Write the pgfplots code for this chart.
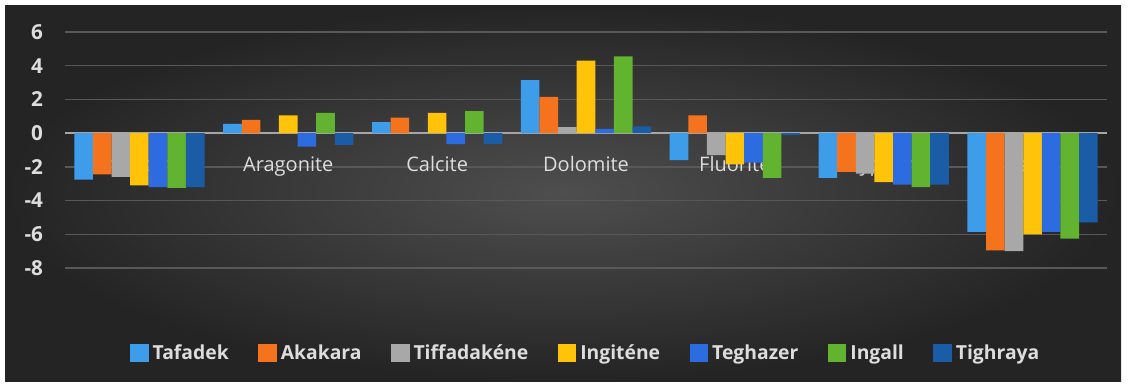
\documentclass[border=0pt]{standalone}
\usepackage{pgfplots}
\pgfplotsset{compat=1.18}
\usepackage{pgfplotstable}
\usepackage{fontspec}
\setmainfont{Open Sans}
\definecolor{cA}{HTML}{3D9DEB}
\definecolor{cB}{HTML}{F4731C}
\definecolor{cC}{HTML}{A8A8A8}
\definecolor{cD}{HTML}{FFC30A}
\definecolor{cE}{HTML}{2D6BE0}
\definecolor{cF}{HTML}{62B32F}
\definecolor{cG}{HTML}{1A5DA6}
\definecolor{bgin}{HTML}{4E4E4E}
\definecolor{bgout}{HTML}{242424}
\definecolor{lbl}{HTML}{DDDDDD}
\definecolor{gridc}{HTML}{585858}
\definecolor{zeroc}{HTML}{A6A6A6}

\pgfdeclarelayer{picbg}
\pgfplotsset{
  layers/mylayers/.define layer set={picbg,axis background,axis grid,axis ticks,axis lines,axis tick labels,pre main,main,axis descriptions,axis foreground}{/pgfplots/layers/standard},
}

\pgfplotstableread{
x T A Ti I Te In Tg
0 -2.75 -2.45 -2.6 -3.1 -3.2 -3.25 -3.2
1 0.55 0.78 0.05 1.05 -0.8 1.2 -0.7
2 0.65 0.92 0.05 1.2 -0.65 1.3 -0.65
3 3.15 2.15 0.35 4.3 0.25 4.55 0.4
4 -1.6 1.05 -1.3 -1.85 -1.75 -2.65 -0.1
5 -2.65 -2.3 -2.4 -2.9 -3.05 -3.2 -3.05
6 -5.85 -6.95 -7.0 -6.0 -5.85 -6.25 -5.3
}\datatable

\begin{document}
\begin{tikzpicture}
\begin{axis}[
  set layers=mylayers,
  at={(48.75pt,-201pt)}, anchor=south west,
  scale only axis, width=781.5pt, height=177pt,
  xmin=-0.5, xmax=6.5, ymin=-8, ymax=6,
  ybar=0pt, bar width=0.125,
  axis x line*=middle,
  axis y line*=left,
  y axis line style={draw=none},
  x axis line style={draw=zeroc, line width=1.6pt, -},
  major tick length=0pt,
  xtick={0,...,6},
  xticklabels={Anhydrite,Aragonite,Calcite,Dolomite,Fluorite,Gypsum,Halite},
  xticklabel style={text=lbl, font=\fontsize{15}{17}\selectfont, yshift=-14pt},
  ytick={-8,-6,...,6},
  yticklabel style={text=lbl, font=\bfseries\fontsize{15.5}{17}\selectfont, anchor=east, xshift=-13pt},
  /pgf/number format/assume math mode=true,
  ymajorgrids,
  grid style={draw=gridc, line width=1.1pt},
  legend columns=-1,
  legend style={at={(0.5,0)}, anchor=center, yshift=-63.75pt, draw=none, fill=none,
    text=lbl, font=\bfseries\fontsize{14.5}{17}\selectfont,
    /tikz/every even column/.append style={column sep=20pt},
    /tikz/every odd column/.append style={column sep=1pt}},
  legend image code/.code={\fill[#1,draw=none] (0pt,-7pt) rectangle (14pt,7pt);},
]
\addplot[fill=cA, draw=none] table[x=x,y=T]{\datatable};
\addplot[fill=cB, draw=none] table[x=x,y=A]{\datatable};
\addplot[fill=cC, draw=none] table[x=x,y=Ti]{\datatable};
\addplot[fill=cD, draw=none] table[x=x,y=I]{\datatable};
\addplot[fill=cE, draw=none] table[x=x,y=Te]{\datatable};
\addplot[fill=cF, draw=none] table[x=x,y=In]{\datatable};
\addplot[fill=cG, draw=none] table[x=x,y=Tg]{\datatable};
\legend{Tafadek,Akakara,Tiffadakéne,Ingiténe,Teghazer,Ingall,Tighraya}
\end{axis}
\begin{pgfonlayer}{picbg}
\begin{scope}[x=0.75pt,y=-0.75pt]
\fill[white] (0,0) rectangle (1128,390);
\shade[inner color=bgin, outer color=bgout] (5,5) rectangle (1121,381);
\end{scope}
\end{pgfonlayer}
\pgfresetboundingbox
\path (0,0) rectangle (846pt,-292.5pt);
\end{tikzpicture}
\end{document}
